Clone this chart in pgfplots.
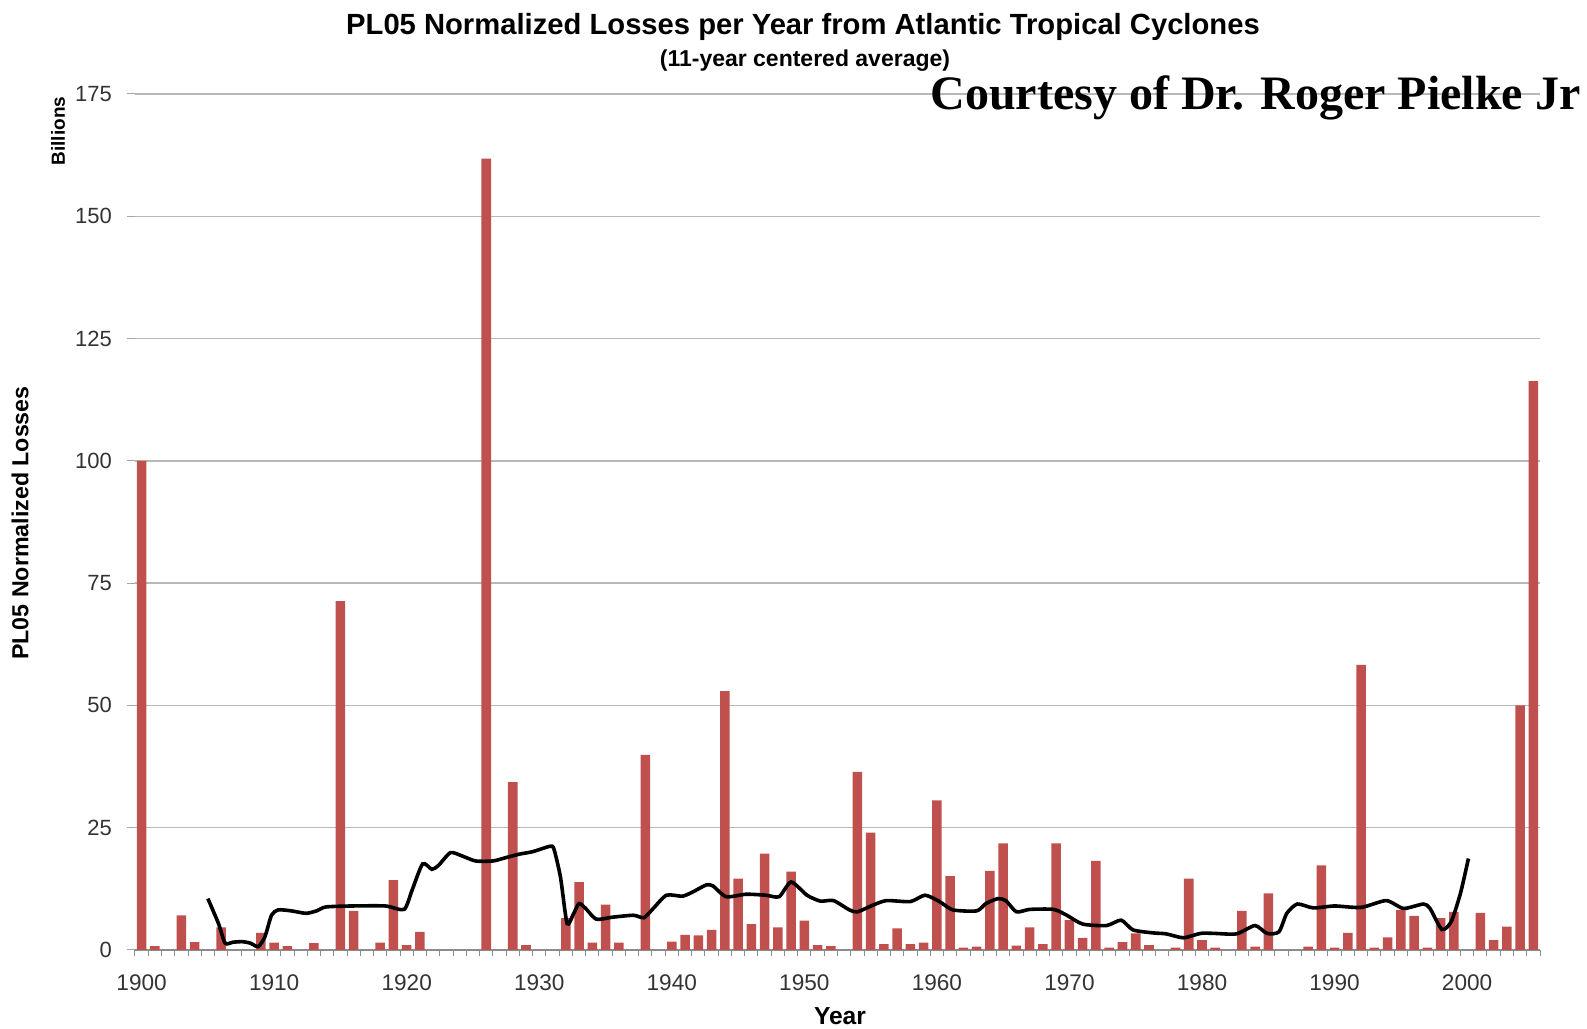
\documentclass[border=0pt]{standalone}
\usepackage{fontspec}
\setmainfont{Liberation Sans}
\newfontfamily\timesbf{Liberation Serif}
\usepackage{pgfplots}
\pgfplotsset{compat=1.18}
\definecolor{barred}{RGB}{192,80,77}
\begin{document}
\begin{tikzpicture}
\useasboundingbox (-67.5pt,-39.5pt) rectangle (726pt,475pt);
\begin{axis}[
  at={(0,0)}, anchor=south west,
  scale only axis, width=702.5pt, height=428pt,
  xmin=1899.5, xmax=2005.5, ymin=0, ymax=175,
  axis x line*=bottom, axis y line*=left,
  y axis line style={draw=none},
  x axis line style={draw=black!45, line width=0.6pt},
  xtick={1900,1910,...,2000},
  minor xtick={1899.5,1900.5,...,2005.5},
  ytick={0,25,...,175},
  tick align=outside,
  major x tick style={draw=none},
  minor x tick style={draw=black!45, line width=0.5pt},
  minor tick length=3pt,
  major y tick style={draw=black!35, line width=0.5pt},
  major tick length=4pt,
  ymajorgrids, grid style={draw=black!28, line width=0.7pt},
  xticklabel style={font=\fontsize{11.3}{13}\selectfont, text=black!80, yshift=-5pt},
  yticklabel style={font=\fontsize{11}{13}\selectfont, text=black!80, xshift=-4pt},
  /pgf/number format/assume math mode=true,
  /pgf/number format/set thousands separator={},
  clip=false,
]
\addplot[ybar, bar width=0.72, fill=barred, draw=none] coordinates {
(1900,100) (1901,0.8) (1903,7.1) (1904,1.6) (1906,4.6) (1909,3.5) (1910,1.5)
(1911,0.8) (1913,1.4) (1915,71.3) (1916,8.0) (1918,1.5) (1919,14.3) (1920,1.0)
(1921,3.7) (1926,161.8) (1928,34.3) (1929,1.0) (1932,6.5) (1933,13.9) (1934,1.5)
(1935,9.3) (1936,1.5) (1938,39.9) (1940,1.7) (1941,3.1) (1942,3.0) (1943,4.1)
(1944,52.9) (1945,14.6) (1946,5.3) (1947,19.7) (1948,4.6) (1949,16.0) (1950,6.0)
(1951,1.0) (1952,0.8) (1954,36.4) (1955,24.0) (1956,1.2) (1957,4.4) (1958,1.2)
(1959,1.5) (1960,30.6) (1961,15.1) (1962,0.5) (1963,0.7) (1964,16.2) (1965,21.8)
(1966,0.9) (1967,4.6) (1968,1.2) (1969,21.8) (1970,6.1) (1971,2.5) (1972,18.2)
(1973,0.5) (1974,1.6) (1975,3.4) (1976,1.0) (1978,0.5) (1979,14.6) (1980,2.0)
(1981,0.5) (1983,8.0) (1984,0.7) (1985,11.6) (1988,0.7) (1989,17.3) (1990,0.5)
(1991,3.5) (1992,58.3) (1993,0.5) (1994,2.6) (1995,8.2) (1996,7.0) (1997,0.5)
(1998,6.5) (1999,7.8) (2001,7.6) (2002,2.0) (2003,4.8) (2004,50.0) (2005,116.3)
};
\addplot[black, line width=1.8pt, smooth, tension=0.4] coordinates {
(1905.0,10.5) (1905.8,5.4) (1906.3,1.4) (1906.9,1.6) (1907.6,1.7) (1908.2,1.4)
(1908.8,0.7) (1909.3,2.7) (1909.8,7.1) (1910.3,8.2) (1911.3,8.0) (1912.4,7.5)
(1913.2,8.0) (1913.9,8.8) (1915.9,9.0) (1918.4,9.0) (1919.8,8.3) (1920.4,12.2)
(1921.2,17.6) (1921.9,16.5) (1922.4,17.3) (1923.3,19.9) (1924.2,19.2) (1925.2,18.2)
(1926.5,18.2) (1927.5,18.9) (1928.5,19.6) (1929.5,20.1) (1930.8,21.2) (1931.1,20.7)
(1931.6,14.9) (1932.1,5.4) (1932.6,7.5) (1933.0,9.5) (1933.5,8.5) (1934.3,6.3)
(1935.5,6.7) (1937.1,7.1) (1937.9,6.6) (1938.6,8.5) (1939.6,11.2) (1940.8,11.0)
(1941.6,11.9) (1942.6,13.3) (1943.1,13.1) (1944.1,10.9) (1945.6,11.4) (1947.1,11.2)
(1948.1,10.9) (1949.0,13.9) (1950.2,11.2) (1951.2,10.0) (1952.2,10.1) (1953.4,8.2)
(1954.0,7.8) (1955.2,9.2) (1956.2,10.1) (1958.0,9.9) (1959.1,11.2) (1960.2,9.9)
(1961.2,8.2) (1963.0,8.0) (1963.7,9.5) (1964.6,10.5) (1965.2,10.1) (1966.0,7.8)
(1967.0,8.3) (1968.8,8.3) (1969.8,7.1) (1971.0,5.3) (1972.8,5.0) (1973.9,6.1)
(1974.8,4.1) (1976.3,3.5) (1977.3,3.3) (1978.6,2.5) (1979.9,3.4) (1980.9,3.4)
(1982.6,3.3) (1984.0,5.0) (1984.9,3.4) (1985.8,3.7) (1986.4,7.5) (1987.2,9.4)
(1988.4,8.6) (1990.0,9.0) (1992.0,8.7) (1993.9,10.1) (1995.2,8.5) (1996.7,9.4)
(1997.2,8.5) (1998.1,4.2) (1998.8,5.8) (1999.5,11.6) (2000.1,18.7)
};
\end{axis}
\node[font=\bfseries\fontsize{14.6}{16}\selectfont] at (334pt,461.5pt) {PL05 Normalized Losses per Year from Atlantic Tropical Cyclones};
\node[font=\bfseries\fontsize{11.5}{13}\selectfont] at (335pt,444.5pt) {(11-year centered average)};
\node[font=\timesbf\bfseries\fontsize{24}{26}\selectfont, anchor=east, inner sep=0pt] at (723pt,426pt) {Courtesy of Dr. Roger Pielke Jr};
\node[font=\bfseries\fontsize{11.6}{13}\selectfont, rotate=90] at (-57.5pt,213.5pt) {PL05 Normalized Losses};
\node[font=\bfseries\fontsize{9.5}{11}\selectfont, rotate=90] at (-38.5pt,409.5pt) {Billions};
\node[font=\bfseries\fontsize{12.3}{14}\selectfont] at (352.5pt,-33pt) {Year};
\end{tikzpicture}
\end{document}
